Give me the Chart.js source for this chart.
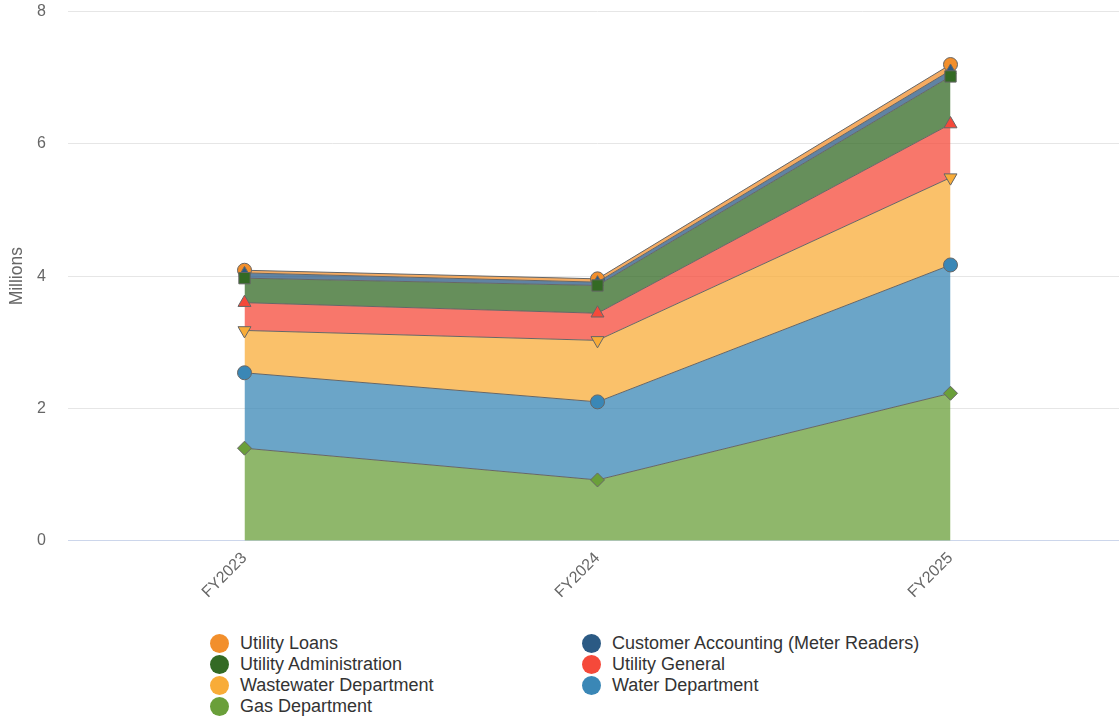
<!DOCTYPE html>
<html>
<head>
<meta charset="utf-8">
<script src="https://cdn.jsdelivr.net/npm/chart.js@4.4.1/dist/chart.umd.min.js"></script>
<style>
    html, body { margin: 0; padding: 0; background: #fff; overflow: hidden; }
    body { width: 1119px; height: 719px; position: relative; font-family: "Liberation Sans", Arial, sans-serif; }
    #wrap { position: absolute; left: 0; top: -20px; width: 1127px; height: 630px; }
    #legend {
        position: absolute; left: 210px; top: 633px;
        display: grid; grid-template-columns: 372px 372px; grid-auto-rows: 21px;
        font-size: 18px; color: #333;
    }
    .item { display: flex; align-items: center; white-space: nowrap; }
    .dot { width: 19px; height: 19px; border-radius: 50%; margin-right: 11px; }
</style>
</head>
<body>
<div id="wrap"><canvas id="chart"></canvas></div>
<div id="legend"></div>
<script>
// categories and series (millions), bottom of the stack first
const categories = ['FY2023', 'FY2024', 'FY2025'];
const gasDept = [1.40, 0.92, 2.23];
const waterDept = [1.14, 1.18, 1.94];
const wastewaterDept = [0.64, 0.93, 1.32];
const utilityGeneral = [0.42, 0.41, 0.81];
const utilityAdmin = [0.37, 0.42, 0.72];
const customerAccounting = [0.08, 0.05, 0.09];
const utilityLoans = [0.04, 0.05, 0.09];
const yTicks = [0, 2, 4, 6, 8];

// series look: name, data, colour, marker
const series = [
    { name: 'Gas Department', data: gasDept, color: '106, 159, 58', marker: 'rectRot', radius: 7, rot: 0 },
    { name: 'Water Department', data: waterDept, color: '58, 135, 182', marker: 'circle', radius: 7, rot: 0 },
    { name: 'Wastewater Department', data: wastewaterDept, color: '248, 172, 56', marker: 'triangle', radius: 7.5, rot: 180 },
    { name: 'Utility General', data: utilityGeneral, color: '245, 73, 58', marker: 'triangle', radius: 7.5, rot: 0 },
    { name: 'Utility Administration', data: utilityAdmin, color: '51, 106, 36', marker: 'rect', radius: 8, rot: 0 },
    { name: 'Customer Accounting (Meter Readers)', data: customerAccounting, color: '43, 90, 132', marker: 'triangle', radius: 6.5, rot: 0 },
    { name: 'Utility Loans', data: utilityLoans, color: '242, 143, 44', marker: 'circle', radius: 7, rot: 0 }
];

const datasets = series.map((s, i) => ({
    label: s.name,
    data: s.data,
    fill: i === 0 ? 'origin' : '-1',
    backgroundColor: 'rgba(' + s.color + ', 0.75)',
    borderColor: '#666666',
    borderWidth: 1,
    pointStyle: s.marker,
    pointRadius: s.radius,
    pointRotation: s.rot,
    pointBackgroundColor: 'rgb(' + s.color + ')',
    pointBorderColor: '#666666',
    pointBorderWidth: 1,
    tension: 0,
    clip: false
}));

new Chart(document.getElementById('chart'), {
    type: 'line',
    data: { labels: categories, datasets: datasets },
    options: {
        responsive: true,
        maintainAspectRatio: false,
        animation: false,
        layout: { autoPadding: false, padding: 0 },
        plugins: {
            legend: { display: false },
            tooltip: { enabled: false }
        },
        scales: {
            x: {
                offset: true,
                grid: { display: false, drawTicks: false },
                border: { color: '#ccd6eb' },
                ticks: {
                    color: '#666',
                    font: { family: '"Liberation Sans", Arial', size: 16 },
                    maxRotation: 45, minRotation: 45,
                    padding: 8
                }
            },
            y: {
                stacked: true,
                min: 0, max: 8,
                afterBuildTicks: axis => { axis.ticks = yTicks.map(v => ({ value: v })); },
                afterFit: axis => { axis.width = 68; },
                grid: { color: '#e6e6e6', drawTicks: false },
                border: { display: false },
                ticks: {
                    color: '#666',
                    font: { family: '"Liberation Sans", Arial', size: 16 },
                    padding: 22
                },
                title: {
                    display: true, text: 'Millions', color: '#666',
                    font: { family: '"Liberation Sans", Arial', size: 17.5 },
                    padding: { top: 7, bottom: 0 }
                }
            }
        }
    }
});

// legend: top of the stack first, two columns
const legend = document.getElementById('legend');
series.slice().reverse().forEach(s => {
    const item = document.createElement('div');
    item.className = 'item';
    item.innerHTML = '<span class="dot" style="background: rgb(' + s.color + ')"></span>' + s.name;
    legend.appendChild(item);
});
</script>
</body>
</html>
